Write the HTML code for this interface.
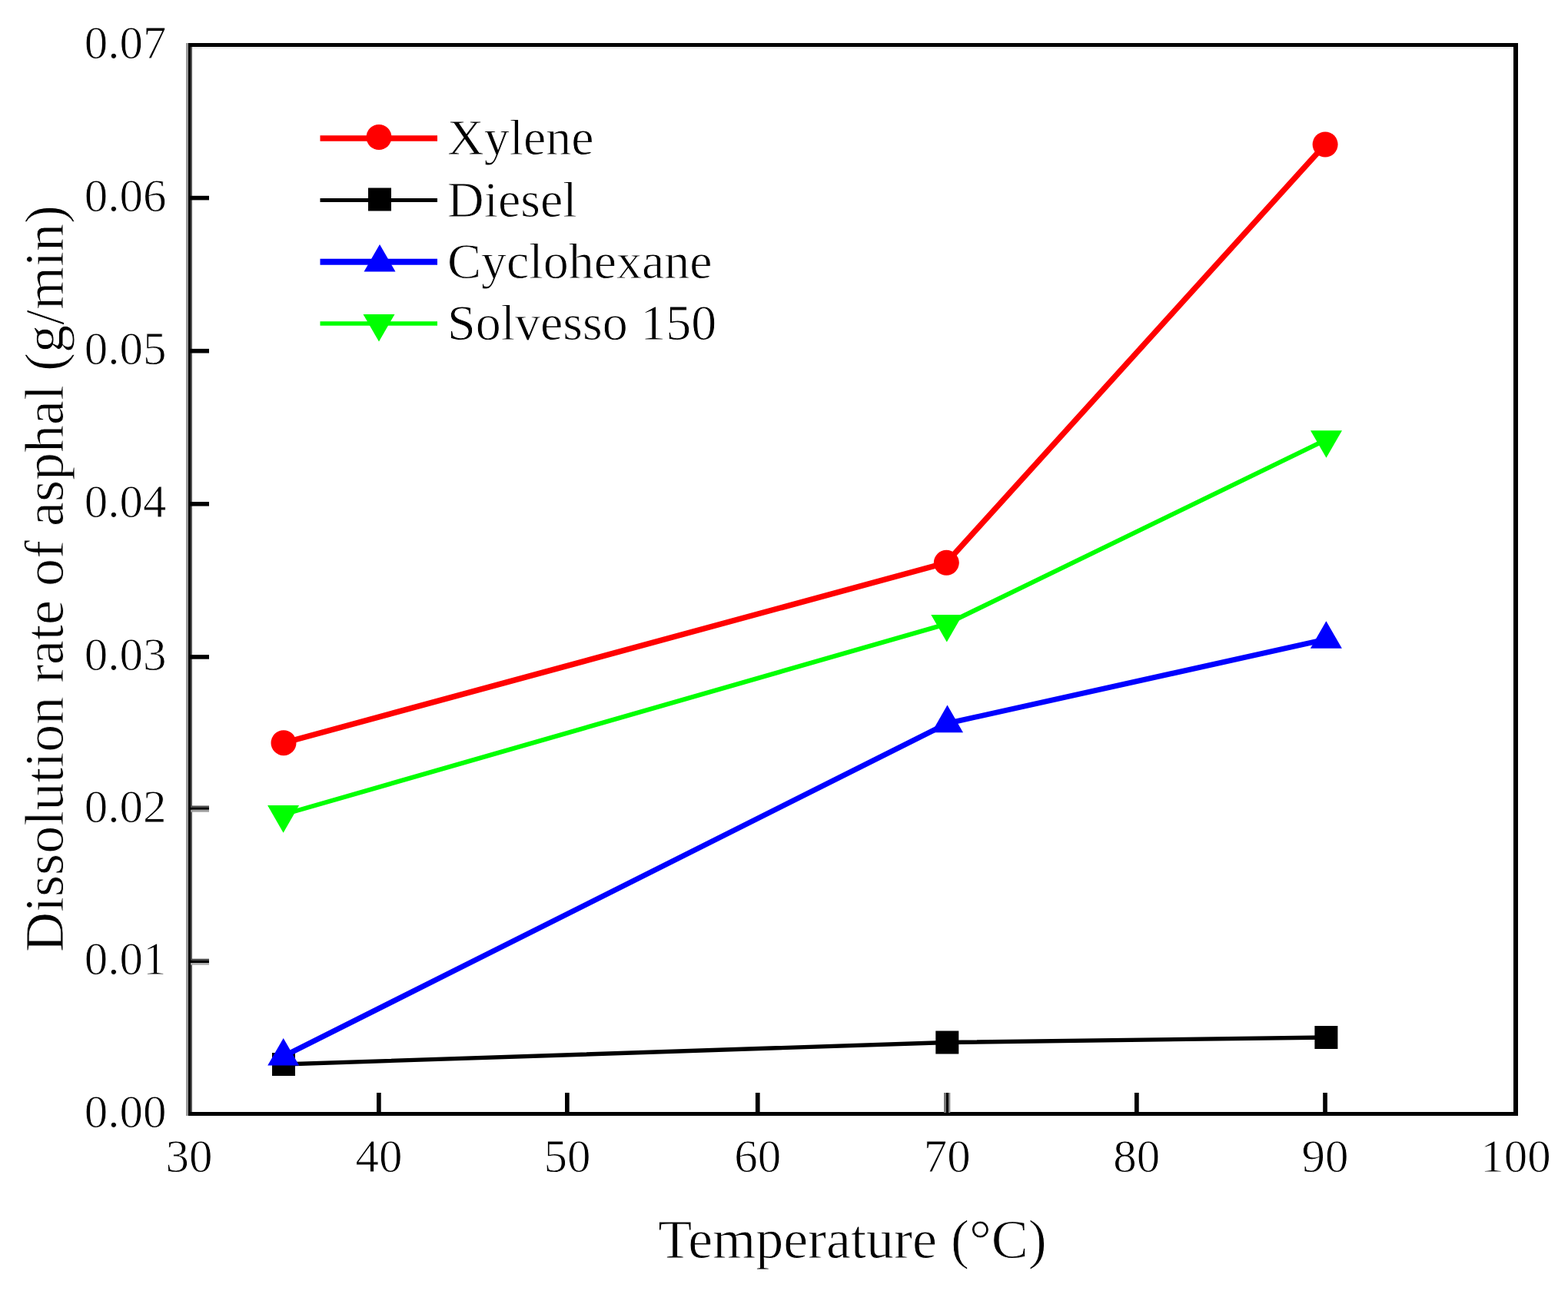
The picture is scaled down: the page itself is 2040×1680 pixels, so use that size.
<!DOCTYPE html><html><head><meta charset="utf-8"><title>Dissolution rate of asphal vs Temperature</title>
<style>html,body{margin:0;padding:0;background:#fff;}body{width:2040px;height:1680px;overflow:hidden;}svg{display:block;}text{font-family:"Liberation Serif","Times New Roman",serif;fill:#000;stroke:#fff;stroke-width:0.9px;}</style></head><body>
<svg width="2040" height="1680" viewBox="0 0 2040 1680">
<rect x="0" y="0" width="2040" height="1680" fill="#fff"/>
<rect x="242" y="56" width="3" height="1396" fill="#999"/>
<rect x="245" y="56" width="3" height="1396" fill="#000"/>
<rect x="248" y="61" width="2" height="1386" fill="#555"/>
<rect x="250" y="61" width="1719" height="2.5" fill="#eee"/>
<rect x="245" y="56" width="1730" height="5" fill="#000"/>
<rect x="245" y="1447" width="1730" height="5" fill="#000"/>
<rect x="1969" y="56" width="6" height="1396" fill="#000"/>
<rect x="248" y="1247.7" width="24" height="2.1" fill="#444"/>
<rect x="245" y="1249.8" width="27" height="3.3" fill="#000"/>
<rect x="248" y="1253.1" width="24" height="2.6" fill="#aaa"/>
<rect x="248" y="1048.5" width="24" height="2.5" fill="#4c4c4c"/>
<rect x="245" y="1051" width="27" height="2.8" fill="#000"/>
<rect x="248" y="1053.8" width="24" height="2.9" fill="#a0a0a0"/>
<rect x="245" y="852.1" width="27" height="5.6" fill="#000"/>
<rect x="245" y="653.0" width="27" height="5.6" fill="#000"/>
<rect x="245" y="453.9" width="27" height="5.6" fill="#000"/>
<rect x="245" y="254.8" width="27" height="5.6" fill="#000"/>
<rect x="490.0" y="1422" width="5.7" height="27" fill="#000"/>
<rect x="735.0" y="1422" width="5.7" height="27" fill="#000"/>
<rect x="982.9" y="1422" width="5.7" height="27" fill="#000"/>
<rect x="1228" y="1422" width="3" height="26" fill="#777"/>
<rect x="1231" y="1422" width="3" height="27" fill="#000"/>
<rect x="1234" y="1422" width="2.3" height="26" fill="#888"/>
<rect x="1476.0" y="1422" width="5.7" height="27" fill="#000"/>
<rect x="1721.2" y="1422" width="5.7" height="27" fill="#000"/>
<polyline points="369.0,966.7 1231.3,732.3 1724.1,188.0" fill="none" stroke="#ff0000" stroke-width="7.4" stroke-linejoin="miter"/>
<circle cx="369.0" cy="966.7" r="16.5" fill="#ff0000"/>
<circle cx="1231.3" cy="732.3" r="16.5" fill="#ff0000"/>
<circle cx="1724.1" cy="188.0" r="16.5" fill="#ff0000"/>
<polyline points="369.0,1385.0 1232.3,1356.5 1725.4,1350.0" fill="none" stroke="#000" stroke-width="5.4" stroke-linejoin="miter"/>
<rect x="354.0" y="1370.0" width="30.0" height="30.0" fill="#000"/>
<rect x="1217.3" y="1341.5" width="30.0" height="30.0" fill="#000"/>
<rect x="1710.4" y="1335.0" width="30.0" height="30.0" fill="#000"/>
<polyline points="368.7,1374.6 1232.5,941.3 1725.4,831.9" fill="none" stroke="#0000ff" stroke-width="7.0" stroke-linejoin="miter"/>
<polygon points="368.7,1350.9 348.2,1386.5 389.2,1386.5" fill="#0000ff"/>
<polygon points="1232.5,917.6 1212.0,953.2 1253.0,953.2" fill="#0000ff"/>
<polygon points="1725.4,808.2 1704.9,843.8 1745.9,843.8" fill="#0000ff"/>
<polyline points="368.6,1060.0 1231.8,811.9 1725.5,572.1" fill="none" stroke="#00ff00" stroke-width="5.9" stroke-linejoin="miter"/>
<polygon points="348.1,1048.1 389.1,1048.1 368.6,1083.7" fill="#00ff00"/>
<polygon points="1211.3,800.0 1252.3,800.0 1231.8,835.6" fill="#00ff00"/>
<polygon points="1705.0,560.2 1746.0,560.2 1725.5,595.8" fill="#00ff00"/>
<line x1="416.5" y1="180.0" x2="569.0" y2="180.0" stroke="#ff0000" stroke-width="7.5"/>
<circle cx="493.0" cy="178.5" r="16.5" fill="#ff0000"/>
<text x="582" y="201.4" font-size="66">Xylene</text>
<line x1="416.5" y1="260.4" x2="569.0" y2="260.4" stroke="#000" stroke-width="5.0"/>
<rect x="479.0" y="244.5" width="30.0" height="30.0" fill="#000"/>
<text x="582" y="281.6" font-size="66">Diesel</text>
<line x1="416.5" y1="340.8" x2="569.0" y2="340.8" stroke="#0000ff" stroke-width="8.0"/>
<polygon points="494.0,318.0 473.5,353.6 514.5,353.6" fill="#0000ff"/>
<text x="582" y="361.8" font-size="66">Cyclohexane</text>
<line x1="416.5" y1="421.0" x2="569.0" y2="421.0" stroke="#00ff00" stroke-width="5.7"/>
<polygon points="472.5,409.0 513.5,409.0 493.0,444.6" fill="#00ff00"/>
<text x="582" y="442.0" font-size="66">Solvesso 150</text>
<text x="216.5" y="1466.5" font-size="61" text-anchor="end">0.00</text>
<text x="216.5" y="1268.3" font-size="61" text-anchor="end">0.01</text>
<text x="216.5" y="1069.5" font-size="61" text-anchor="end">0.02</text>
<text x="216.5" y="871.9" font-size="61" text-anchor="end">0.03</text>
<text x="216.5" y="672.8" font-size="61" text-anchor="end">0.04</text>
<text x="216.5" y="473.7" font-size="61" text-anchor="end">0.05</text>
<text x="216.5" y="274.6" font-size="61" text-anchor="end">0.06</text>
<text x="216.5" y="75.5" font-size="61" text-anchor="end">0.07</text>
<text x="246.0" y="1525" font-size="61" text-anchor="middle">30</text>
<text x="492.9" y="1525" font-size="61" text-anchor="middle">40</text>
<text x="737.9" y="1525" font-size="61" text-anchor="middle">50</text>
<text x="985.8" y="1525" font-size="61" text-anchor="middle">60</text>
<text x="1232.2" y="1525" font-size="61" text-anchor="middle">70</text>
<text x="1478.8" y="1525" font-size="61" text-anchor="middle">80</text>
<text x="1724.1" y="1525" font-size="61" text-anchor="middle">90</text>
<text x="1972.0" y="1525" font-size="61" text-anchor="middle">100</text>
<text x="1109" y="1637" font-size="72" text-anchor="middle">Temperature (°C)</text>
<text transform="translate(82,753) rotate(-90)" font-size="72" text-anchor="middle">Dissolution rate of asphal (g/min)</text>
</svg></body></html>
